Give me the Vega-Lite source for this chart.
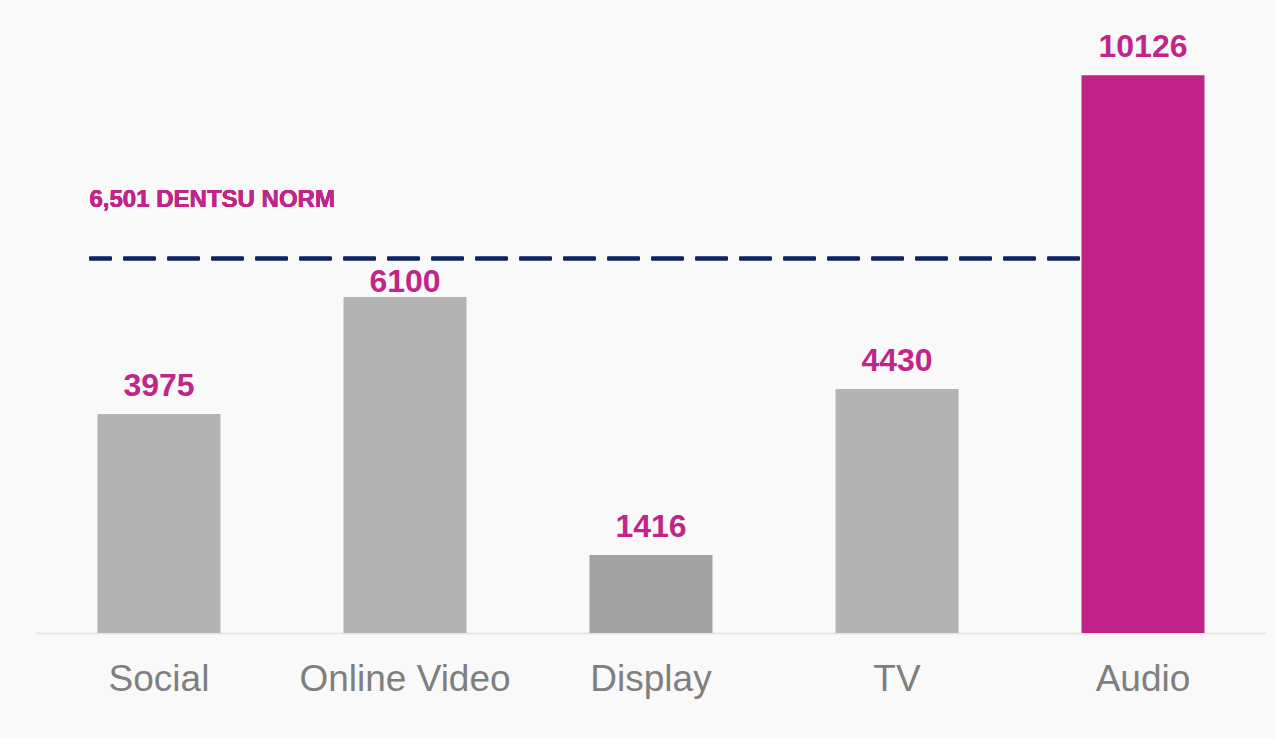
{
  "$schema": "https://vega.github.io/schema/vega-lite/v6.json",
  "width": 1230,
  "height": 606,
  "autosize": {"type": "none"},
  "padding": {"left": 36, "top": 27, "right": 10, "bottom": 105},
  "background": "#f9f9f9",
  "config": {
    "view": {"stroke": null},
    "font": "Liberation Sans"
  },
  "data": {
    "values": [
      {"channel": "Social", "value": 3975},
      {"channel": "Online Video", "value": 6100},
      {"channel": "Display", "value": 1416},
      {"channel": "TV", "value": 4430},
      {"channel": "Audio", "value": 10126}
    ]
  },
  "encoding": {
    "x": {
      "field": "channel",
      "type": "nominal",
      "sort": null,
      "scale": {"domain": ["Social", "Online Video", "Display", "TV", "Audio"], "paddingInner": 0.5, "paddingOuter": 0.25},
      "axis": {
        "title": null,
        "labelAngle": 0,
        "labelFontSize": 37,
        "labelColor": "#7f7f7f",
        "labelFont": "Liberation Sans",
        "labelPadding": 28,
        "labelLimit": 0,
        "ticks": false,
        "domainColor": "#e6e6e6",
        "domainWidth": 2,
        "grid": false
      }
    },
    "y": {
      "field": "value",
      "type": "quantitative",
      "scale": {"domain": [0, 11000], "nice": false},
      "axis": null
    }
  },
  "layer": [
    {
      "mark": {"type": "rule", "color": "#0e2462", "strokeWidth": 3.5, "strokeDash": [32, 12], "strokeDashOffset": 10},
      "encoding": {
        "x": {"datum": "Social", "bandPosition": -0.065},
        "x2": {"datum": "Audio", "bandPosition": 0.5},
        "y": {"datum": 6800}
      }
    },
    {
      "mark": {"type": "text", "align": "left", "baseline": "alphabetic", "dy": -51, "fontSize": 24, "fontWeight": "bold", "color": "#c0268a"},
      "encoding": {
        "x": {"datum": "Social", "bandPosition": -0.065},
        "y": {"datum": 6800},
        "text": {"value": "6,501 DENTSU NORM"}
      }
    },
    {
      "mark": {"type": "bar"},
      "encoding": {
        "color": {
          "field": "channel",
          "type": "nominal",
          "scale": {
            "domain": ["Social", "Online Video", "Display", "TV", "Audio"],
            "range": ["#b3b3b3", "#b3b3b3", "#a2a2a2", "#b3b3b3", "#c12386"]
          },
          "legend": null
        }
      }
    },
    {
      "transform": [{"filter": "datum.channel !== 'Online Video'"}],
      "mark": {"type": "text", "baseline": "alphabetic", "dy": -18, "fontSize": 32, "fontWeight": "bold", "color": "#c0268a"},
      "encoding": {
        "text": {"field": "value", "type": "quantitative", "format": "d"}
      }
    },
    {
      "transform": [{"filter": "datum.channel === 'Online Video'"}],
      "mark": {"type": "text", "baseline": "alphabetic", "dy": -5, "fontSize": 32, "fontWeight": "bold", "color": "#c0268a"},
      "encoding": {
        "text": {"field": "value", "type": "quantitative", "format": "d"}
      }
    }
  ]
}
